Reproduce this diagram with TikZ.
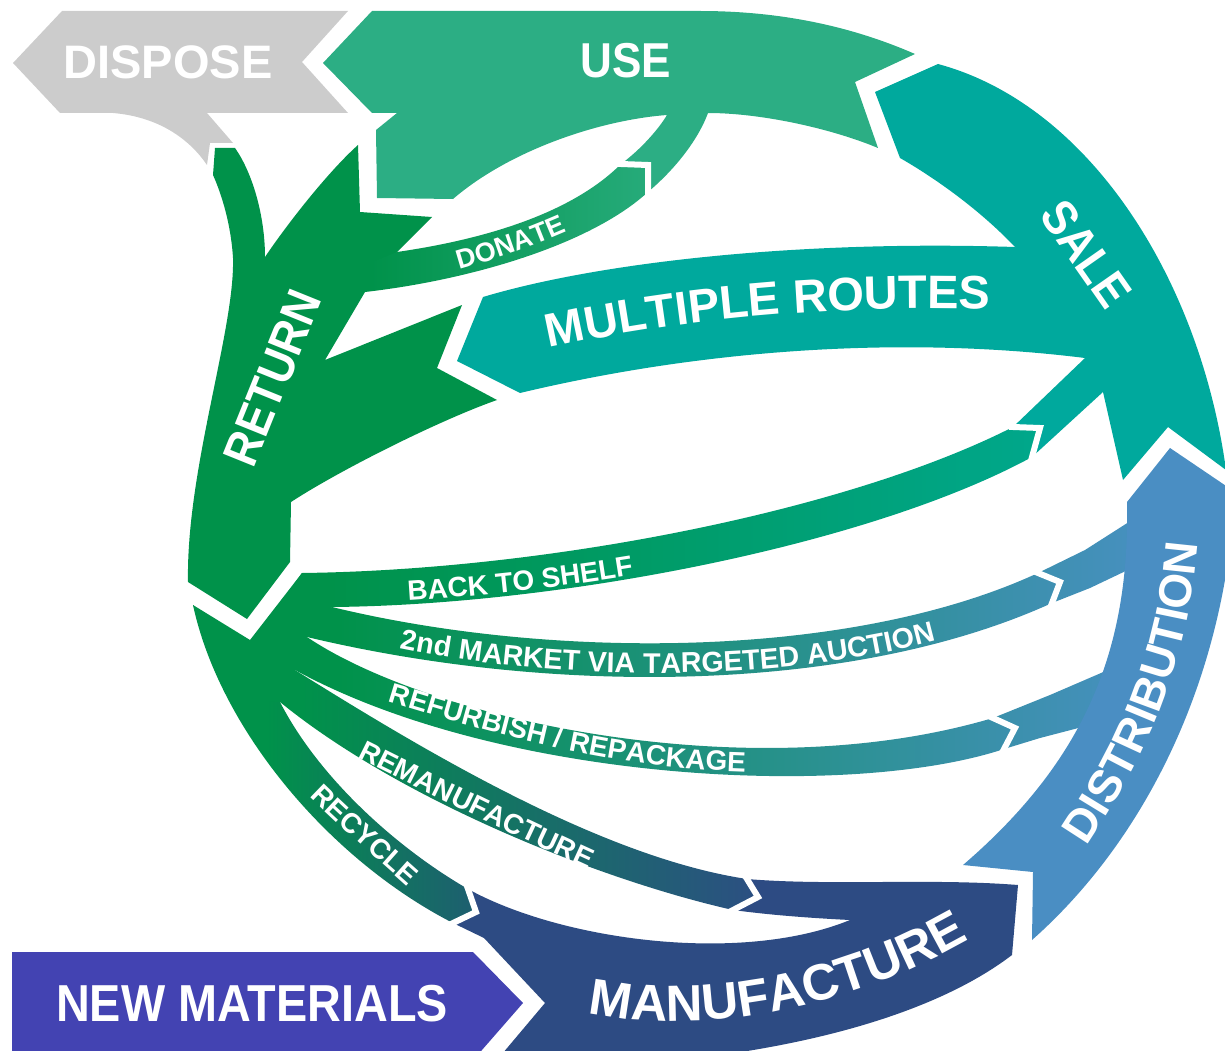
\documentclass[tikz,border=0pt]{standalone}
\usepackage{fontspec}
\setmainfont{Liberation Sans}
\newfontfamily\condf{Liberation Sans}[FakeStretch=0.9]
\usetikzlibrary{decorations.text}
\definecolor{cgray}{HTML}{CCCCCC}
\definecolor{usegreen}{HTML}{2CAE84}
\definecolor{saleteal}{HTML}{00A99D}
\definecolor{retgreen}{HTML}{00924A}
\definecolor{distblue}{HTML}{4A8EC3}
\definecolor{manublue}{HTML}{2D4B83}
\definecolor{newmat}{HTML}{4343B2}
\definecolor{donateR}{HTML}{26AB7A}
\definecolor{shelfR}{HTML}{00A78B}
\definecolor{marketR}{HTML}{4690BE}
\definecolor{refurbR}{HTML}{4490BB}
\definecolor{remanR}{HTML}{2C4F82}
\definecolor{recycR}{HTML}{1E5E70}
\pgfdeclarehorizontalshading{shdonate}{100bp}{color(0bp)=(retgreen); color(25bp)=(retgreen); color(30bp)=(retgreen); color(75bp)=(donateR); color(100bp)=(donateR)}
\pgfdeclarehorizontalshading{shshelf}{100bp}{color(0bp)=(retgreen); color(25bp)=(retgreen); color(30bp)=(retgreen); color(75bp)=(shelfR); color(100bp)=(shelfR)}
\pgfdeclarehorizontalshading{shmarket}{100bp}{color(0bp)=(retgreen); color(25bp)=(retgreen); color(30bp)=(retgreen); color(75bp)=(marketR); color(100bp)=(marketR)}
\pgfdeclarehorizontalshading{shrefurb}{100bp}{color(0bp)=(retgreen); color(25bp)=(retgreen); color(30bp)=(retgreen); color(75bp)=(refurbR); color(100bp)=(refurbR)}
\pgfdeclarehorizontalshading{shreman}{100bp}{color(0bp)=(retgreen); color(25bp)=(retgreen); color(30bp)=(retgreen); color(75bp)=(remanR); color(100bp)=(remanR)}
\pgfdeclarehorizontalshading{shrecyc}{100bp}{color(0bp)=(retgreen); color(25bp)=(retgreen); color(38bp)=(retgreen); color(75bp)=(recycR); color(100bp)=(recycR)}
\newcommand\fsmall{\color{white}\bfseries\fontsize{28}{28}\selectfont}
\newcommand\fmarket{\color{white}\bfseries\fontsize{28.6}{28.6}\selectfont}
\newcommand\fdonate{\color{white}\bfseries\fontsize{27}{27}\selectfont}
\newcommand\fmr{\color{white}\bfseries\fontsize{47}{47}\selectfont}
\newcommand\fdist{\color{white}\bfseries\fontsize{46}{46}\selectfont}
\newcommand\fmanu{\color{white}\bfseries\fontsize{51}{51}\selectfont}
\tikzset{
  lbl/.style={text=white, inner sep=0pt},
  gapline/.style={draw=white, line width=6pt, line join=miter, shorten <=-4pt, shorten >=-4pt},
}
\begin{document}
\begin{tikzpicture}[x=1pt,y=-1pt]
\useasboundingbox (0,0) rectangle (1225,1051);

% NEW MATERIALS
\fill[newmat] (12,952) -- (473,952) -- (523,1003) -- (475,1058) -- (12,1058) -- cycle;

% MANUFACTURE
\fill[manublue] (545,1003) -- (484,938) -- (453,923) -- (476,912) -- (468,889)
  .. controls (560,940) and (740,965) .. (850,920)
  .. controls (810,918) and (770,915) .. (733,910)
  -- (758,897) -- (747,879)
  .. controls (830,886) and (930,878) .. (1018,885)
  -- (1012,955)
  .. controls (940,1010) and (820,1045) .. (680,1060)
  -- (497,1060) -- cycle;

% SALE
\fill[saleteal] (938,64) .. controls (1090,105) and (1200,280) .. (1226,470)
  -- (1168,427) -- (1123,480) -- (1103,392) -- (1032,457) -- (1040,428) -- (1013,427)
  -- (1085,358) -- (1015,247) .. controls (980,210) and (935,178) .. (900,158)
  -- (875,92) -- cycle;

% MULTIPLE ROUTES
\fill[saleteal] (457,361) -- (483,297) .. controls (600,262) and (800,240) .. (1015,247)
  -- (1100,300) -- (1085,358) .. controls (900,335) and (700,350) .. (520,393) -- cycle;

% USE
\fill[usegreen] (323,63) -- (372,11) -- (700,11) .. controls (790,11) and (860,30) .. (915,54)
  -- (855,82) -- (878,148) .. controls (830,128) and (760,113) .. (708,113)
  .. controls (700,135) and (680,165) .. (648,192) -- (648,165) -- (621,164)
  .. controls (640,150) and (658,130) .. (667,115)
  .. controls (600,120) and (510,150) .. (453,199)
  -- (377,198) -- (376,130) -- (397,113) -- (372,113) -- cycle;

% DISPOSE
\fill[cgray] (13,63) -- (62,11) -- (348,11) -- (302,62) -- (348,113) -- (207,113) -- (233,143)
  -- (210,143) -- (207,165) .. controls (190,140) and (160,117) .. (113,113) -- (60,113) -- cycle;

% RETURN
\fill[retgreen] (215,148) -- (235,148) .. controls (252,172) and (265,215) .. (265,257)
  .. controls (290,220) and (330,170) .. (358,145) -- (360,212) -- (432,217) -- (397,252)
  -- (365,292) -- (325,360) -- (462,305) -- (437,368) -- (497,400)
  .. controls (440,420) and (340,470) .. (291,502) -- (290,562) -- (247,619) -- (188,582)
  .. controls (186,470) and (235,330) .. (233,258)
  .. controls (231,225) and (222,195) .. (213,175) -- cycle;

% route bands
\shade[shading=shdonate] (340,275) -- (397,252) .. controls (480,240) and (570,215) .. (621,164)
  -- (648,165) -- (648,192) .. controls (590,245) and (470,280) .. (365,292) -- cycle;
\shade[shading=shshelf] (250,645) -- (302,573) .. controls (550,570) and (850,510) .. (1013,427)
  -- (1040,428) -- (1032,457) .. controls (870,545) and (560,605) .. (332,607) -- cycle;
\shade[shading=shmarket] (250,660) -- (332,607) .. controls (550,660) and (850,660) .. (1038,573)
  -- (1085,550) -- (1132,520) -- (1132,568) -- (1090,588) -- (1052,603)
  .. controls (850,695) and (550,695) .. (307,637) -- cycle;
\shade[shading=shrefurb] (250,670) -- (307,637) .. controls (430,720) and (750,790) .. (993,718)
  -- (1050,695) -- (1108,670) -- (1086,726) -- (1040,738) -- (1004,749)
  .. controls (850,800) and (500,782) .. (295,670) -- cycle;
\shade[shading=shreman] (250,680) -- (295,670) .. controls (420,748) and (600,857) .. (747,879)
  -- (758,897) -- (733,910) .. controls (600,880) and (400,800) .. (280,702) -- cycle;
\shade[shading=shrecyc] (250,660) -- (193,605) .. controls (220,730) and (330,860) .. (453,923)
  -- (476,912) -- (468,889) .. controls (400,850) and (320,780) .. (280,702) -- cycle;
% hub
\fill[retgreen] (193,605) -- (250,640) -- (302,573) -- (332,607) -- (307,637) -- (295,670)
  -- (280,702) -- (236,700) -- cycle;

% DISTRIBUTION
\fill[distblue] (1170,448) -- (1235,492) .. controls (1225,680) and (1145,840) .. (1032,940)
  -- (1033,872) -- (963,865) .. controls (1085,760) and (1130,650) .. (1127,502) -- cycle;

% chevron gaps
\draw[gapline] (621,164) -- (648,165) -- (648,192);
\draw[gapline] (1013,427) -- (1040,428) -- (1032,457);
\draw[gapline] (1038,573) -- (1060,582) -- (1052,603);
\draw[gapline] (993,718) -- (1015,728) -- (1004,749);
\draw[gapline] (747,879) -- (758,897) -- (733,910);
\draw[gapline] (468,889) -- (476,912) -- (453,923);

% straight labels
\node[lbl, font=\bfseries\fontsize{47}{47}\selectfont] (tdispose) at (168,62) {DISPOSE};
\node[lbl, font=\condf\bfseries\fontsize{49}{49}\selectfont] (tuse) at (626,61) {USE};
\node[lbl, font=\condf\bfseries\fontsize{49}{49}\selectfont, rotate=-55] (tsale) at (1086,254) {SALE};
\node[lbl, font=\condf\bfseries\fontsize{49}{49}\selectfont, rotate=68] (treturn) at (273,378) {RETURN};
\node[lbl, font=\condf\bfseries\fontsize{52}{52}\selectfont] (tnew) at (252,1004) {NEW MATERIALS};

% curved labels
\path[decorate, decoration={text along path, text align=center, text={|\fmr|MULTIPLE ROUTES}}]
  (500,360) .. controls (650,320) and (850,300) .. (1040,312);
\path[decorate, decoration={text along path, text align=center, text={|\fdonate|DONATE}}]
  (380,288) .. controls (470,272) and (560,240) .. (640,195);
\path[decorate, decoration={text along path, text align=center, text={|\fsmall|BACK TO SHELF}}]
  (300,605) .. controls (450,603) and (600,585) .. (740,555);
\path[decorate, decoration={text along path, text align=center, text={|\fmarket|2nd MARKET VIA TARGETED AUCTION}}]
  (370,642) .. controls (550,685) and (800,685) .. (965,632);
\path[decorate, decoration={text along path, text align=center, text={|\fsmall|REFURBISH / REPACKAGE}}]
  (350,690) .. controls (480,730) and (620,775) .. (785,772);
\path[decorate, decoration={text along path, text align=center, text={|\fsmall|REMANUFACTURE}}]
  (322,740) .. controls (422,790) and (522,840) .. (624,885);
\path[decorate, decoration={text along path, text align=center, text={|\fsmall|RECYCLE}}]
  (282,768) .. controls (322,813) and (377,858) .. (437,913);
\path[decorate, decoration={text along path, text align=center, text={|\fdist|DISTRIBUTION}}]
  (1056,890) .. controls (1132,785) and (1200,670) .. (1200,490);
\path[decorate, decoration={text along path, text align=center, text={|\fmanu|MANUFACTURE}}]
  (565,1007) .. controls (685,1042) and (855,1012) .. (990,927);
\end{tikzpicture}
\end{document}
